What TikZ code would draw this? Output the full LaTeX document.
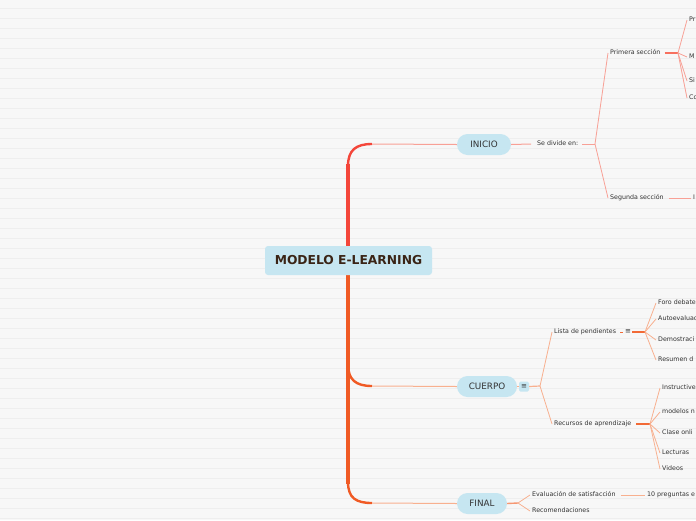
\documentclass[tikz,border=0pt]{standalone}
\usepackage{fontspec}
\setmainfont{DejaVu Sans}
\usetikzlibrary{arrows.meta,positioning,calc}

\definecolor{bgpaper}{HTML}{F7F7F7}
\definecolor{bgline}{HTML}{EEEEEE}
\definecolor{topicfill}{HTML}{C6E6F1}
\definecolor{rootink}{HTML}{3A2416}
\definecolor{leafink}{HTML}{333333}
\definecolor{trunkred}{HTML}{F4463A}
\definecolor{trunkorange}{HTML}{F05A24}
\definecolor{linkred}{HTML}{F8A096}
\definecolor{linkorange}{HTML}{F8B08F}
\definecolor{stubred}{HTML}{F7705F}
\definecolor{stuborange}{HTML}{F26A36}

\begin{document}
\begin{tikzpicture}[x=1pt, y=-1pt, >=Latex,
  rootbox/.style={fill=topicfill, rounded corners=3pt, minimum width=167pt, minimum height=29pt, inner sep=0pt, text=rootink, font=\fontsize{12.3}{14}\selectfont\bfseries},
  topic/.style={fill=topicfill, rounded corners=10.5pt, minimum height=21pt, inner sep=0pt, text=leafink, font=\fontsize{8.8}{10}\selectfont},
  leaf/.style={anchor=west, inner sep=2pt, text height=4.2pt, text depth=1.8pt, text=leafink, font=\fontsize{6.3}{7}\selectfont},
  menubox/.style={fill=topicfill, rounded corners=1.5pt, minimum size=10pt, inner sep=0pt, text=leafink, font=\fontsize{7}{8}\selectfont},
  menuicon/.style={inner sep=1pt, text=leafink, font=\fontsize{7}{8}\selectfont},
  linkA/.style={draw=linkred, line width=0.8pt},
  linkB/.style={draw=linkorange, line width=0.8pt},
  stubA/.style={draw=stubred, line width=2.4pt},
  stubB/.style={draw=stuborange, line width=2.4pt},
  trunk/.style={line width=4.6pt},
  curl/.style={line width=2.4pt}
]
% paper
\path[use as bounding box, fill=bgpaper] (0,0) rectangle (696,520);
\clip (0,0) rectangle (696,520);
\foreach \y in {8,18,...,518}
  \draw[bgline, line width=0.9pt] (0,\y) -- (696,\y);

% main branches
\coordinate (tkTop) at (348,164);
\coordinate (tkMid) at (348,364);
\coordinate (tkLow) at (348,484);
\coordinate (eIni) at (372,144);
\coordinate (eCue) at (372,386);
\coordinate (eFin) at (372,503);
\draw[trunk, trunkred] (348,262) -- (tkTop);
\draw[curl, trunkred] ($(tkTop)+(0,2)$) .. controls (348,150) and (356,144) .. (eIni);
\draw[trunk, trunkorange] (348,262) -- (tkLow);
\draw[curl, trunkorange] (tkMid) .. controls (348,380) and (356,386) .. (eCue);
\draw[curl, trunkorange] ($(tkLow)-(0,2)$) .. controls (348,498) and (356,503) .. (eFin);

\node[rootbox] (root) at (348.5,260.5) {MODELO E-LEARNING};
\node[topic, minimum width=54pt] (inicio) at (484,144.5) {INICIO};
\node[topic, minimum width=60pt] (cuerpo) at (487,386.5) {CUERPO};
\node[topic, minimum width=50pt] (final) at (482,503.5) {FINAL};
\draw[linkA, line width=1pt] (eIni) -- (inicio.west);
\draw[linkB, line width=1pt] (eCue) -- (cuerpo.west);
\draw[linkB, line width=1pt] (eFin) -- (final.west);

% INICIO
\node[leaf] (divide) at (535,144) {Se divide en:};
\coordinate (jIni) at (595,144);
\draw[linkA, line width=1pt] (inicio.east) -- ($(divide.west)+(-4,0)$);
\draw[linkA, line width=1pt] ($(divide.east)+(2,0)$) -- (jIni);
\node[leaf] (primera) at (608,53) {Primera sección};
\node[leaf] (segunda) at (608,198) {Segunda sección};
\draw[linkA] (jIni) -- (primera.west);
\draw[linkA] (jIni) -- (segunda.west);
\coordinate (jPrim) at (678,53);
\draw[stubA] ($(primera.east)+(2,0)$) -- (jPrim);
\foreach \k/\y/\txt in {1/20/Pr,2/57/M,3/81/Si,4/98/Co} {
  \node[leaf] (prim\k) at (687,\y) {\txt};
  \draw[linkA] (jPrim) -- (prim\k.west);
}
\node[leaf] (seg1) at (691,198) {I};
\draw[linkA] ($(segunda.east)+(3,0)$) -- (seg1.west);

% CUERPO
\node[menubox] (menuC) at (524,386.5) {≡};
\coordinate (jCue) at (540,386);
\draw[linkB, line width=1.2pt] (cuerpo.east) -- (menuC.west);
\draw[linkB, line width=1.2pt] (menuC.east) -- (jCue);
\node[leaf] (lista) at (552,332) {Lista de pendientes};
\node[leaf] (recursos) at (552,424) {Recursos de aprendizaje};
\draw[linkB] (jCue) -- (lista.west);
\draw[linkB] (jCue) -- (recursos.west);
\node[menuicon] (menuL) at (628,332) {≡};
\draw[stuborange, line width=0.9pt] ($(lista.east)+(2,0)$) -- ($(menuL.west)+(-1,0)$);
\coordinate (jLis) at (645,332);
\draw[stubB, line width=1.6pt] (menuL.east) -- (jLis);
\foreach \k/\y/\txt in {1/303/Foro debate,2/319/Autoevaluac,3/340/Demostraci,4/360/Resumen d} {
  \node[leaf] (lis\k) at (656,\y) {\txt};
  \draw[linkB] (jLis) -- (lis\k.west);
}
\coordinate (jRec) at (650,424);
\draw[stubB] ($(recursos.east)+(3,0)$) -- (jRec);
\foreach \k/\y/\txt in {1/388/Instructive,2/412/modelos n,3/433/Clase onli,4/453/Lecturas,5/469/Videos} {
  \node[leaf] (rec\k) at (660,\y) {\txt};
  \draw[linkB] (jRec) -- (rec\k.west);
}

% FINAL
\coordinate (jFin) at (518,503);
\draw[linkB, line width=1.4pt, draw=stuborange!70] (final.east) -- (jFin);
\node[leaf] (evalua) at (530,495) {Evaluación de satisfacción};
\node[leaf] (recom) at (530,511) {Recomendaciones};
\draw[linkB] (jFin) -- (evalua.west);
\draw[linkB] (jFin) -- (recom.west);
\node[leaf] (preg) at (645,495) {10 preguntas e};
\draw[linkB] ($(evalua.east)+(3,0)$) -- (preg.west);
\end{tikzpicture}
\end{document}
